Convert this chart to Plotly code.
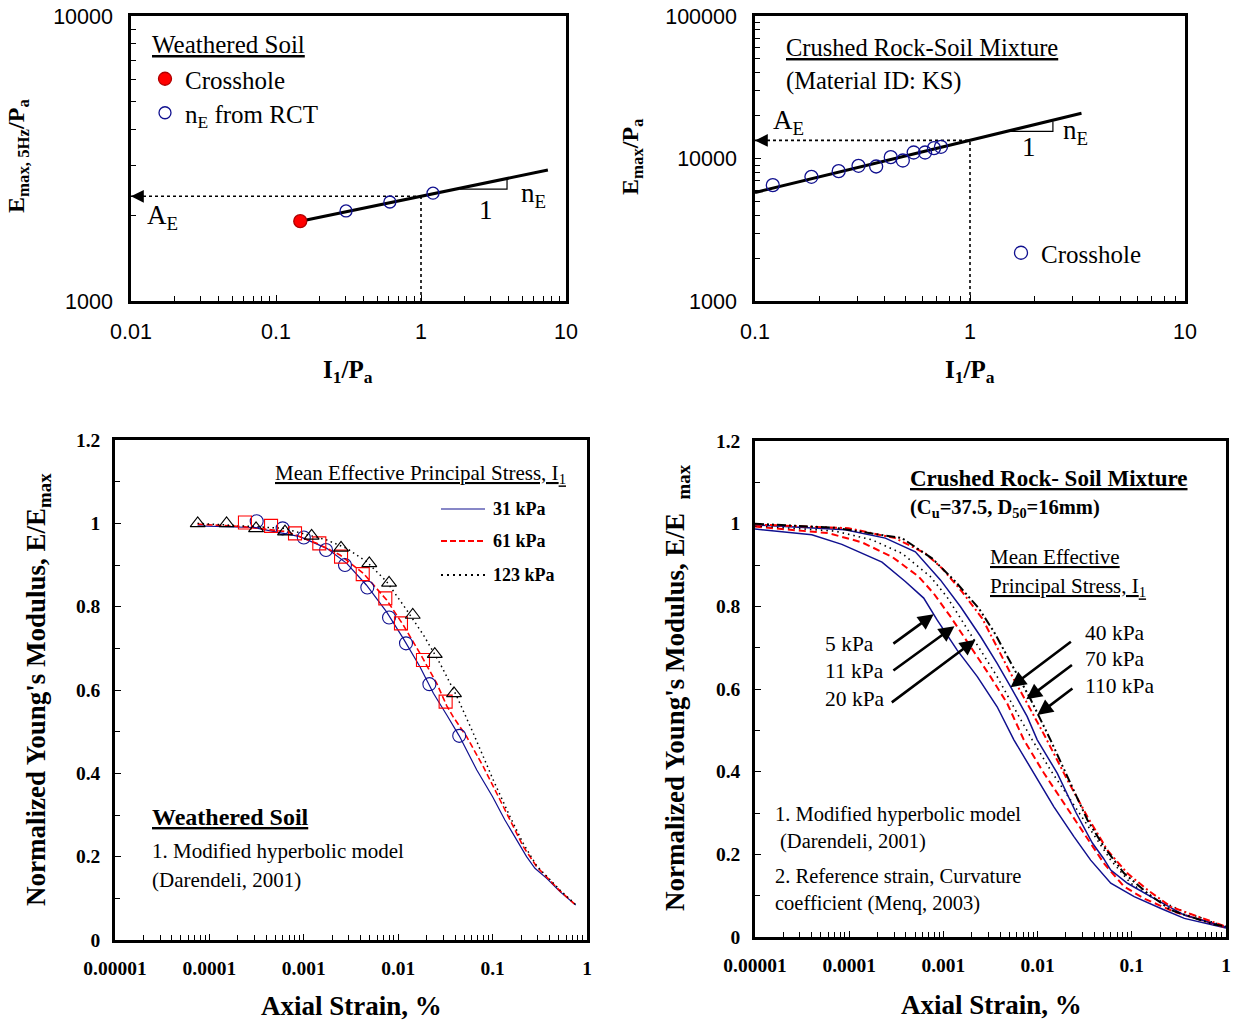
import math
import plotly.graph_objects as go

W, H = 1234, 1023
SERIF = "Liberation Serif"
SANS = "Liberation Sans"
NAVY = "#10108f"
RED = "#ff0000"

# ---------------- Weathered soil: Emax,5Hz/Pa vs I1/Pa ----------------
ws_cross_I1 = [0.147]
ws_cross_E = [1906]
ws_rct_I1 = [0.304, 0.61, 1.21]
ws_rct_E = [2070, 2225, 2390]
ws_fit_I1 = [0.147, 7.5]
ws_fit_E = [1906, 2880]
ws_AE = 2330
ws_tri_I1 = [1.86, 3.92]
ws_tri_E = [2470, 2680]

# ---------------- Crushed rock-soil mixture: Emax/Pa vs I1/Pa ----------------
ks_I1 = [0.121, 0.183, 0.245, 0.303, 0.366, 0.428, 0.487, 0.547, 0.618, 0.680, 0.733]
ks_E = [6500, 7440, 8150, 8890, 8790, 10220, 9680, 11020, 11020, 11820, 12080]
ks_fit_I1 = [0.1, 3.3]
ks_fit_E = [5770, 20800]
ks_AE = 13400
ks_tri_I1 = [1.53, 2.43]
ks_tri_E = [15500, 18200]

# ---------------- Weathered soil: E/Emax vs axial strain (%) ----------------
ws_31_strain = [3.17e-4, 5.97e-4, 1.0e-3, 1.72e-3, 2.73e-3, 4.71e-3, 8.0e-3, 0.0121, 0.0214, 0.0443]
ws_31_ratio = [1.005, 0.988, 0.966, 0.936, 0.900, 0.846, 0.774, 0.712, 0.614, 0.490]
ws_61_strain = [2.38e-4, 4.50e-4, 8.07e-4, 1.46e-3, 2.48e-3, 4.21e-3, 7.30e-3, 0.0107, 0.0183, 0.0318]
ws_61_ratio = [1.002, 0.994, 0.976, 0.952, 0.920, 0.878, 0.820, 0.760, 0.672, 0.572]
ws_123_strain = [7.52e-5, 1.52e-4, 3.12e-4, 6.32e-4, 1.21e-3, 2.48e-3, 4.94e-3, 8.0e-3, 0.01426, 0.0244, 0.039]
ws_123_ratio = [1.0, 1.0, 0.988, 0.980, 0.970, 0.941, 0.904, 0.857, 0.780, 0.686, 0.592]

ws_fit31_strain = [7.5e-5, 2.9e-4, 9.1e-4, 1.75e-3, 2.85e-3, 4.6e-3, 7.5e-3, 0.0113, 0.017, 0.0236,
                   0.0327, 0.0443, 0.068, 0.10, 0.135, 0.187, 0.229, 0.281, 0.374, 0.517, 0.76]
ws_fit31_ratio = [0.994, 0.990, 0.968, 0.940, 0.904, 0.852, 0.788, 0.724, 0.656, 0.592,
                  0.540, 0.490, 0.408, 0.344, 0.288, 0.232, 0.200, 0.172, 0.148, 0.116, 0.084]
ws_fit61_strain = [7.5e-5, 2.29e-4, 6.6e-4, 1.37e-3, 2.42e-3, 4.27e-3, 7.55e-3, 0.0113, 0.017, 0.0256,
                   0.0327, 0.0384, 0.0531, 0.0797, 0.12, 0.166, 0.2115, 0.293, 0.517, 0.74]
ws_fit61_ratio = [0.998, 0.992, 0.980, 0.952, 0.924, 0.880, 0.816, 0.756, 0.688, 0.616,
                  0.562, 0.535, 0.488, 0.416, 0.336, 0.272, 0.224, 0.176, 0.118, 0.086]
ws_fit123_strain = [7.5e-5, 6.07e-4, 1.75e-3, 2.85e-3, 4.63e-3, 7.55e-3, 0.0123, 0.0185, 0.0277,
                    0.0417, 0.0625, 0.1016, 0.153, 0.211, 0.293, 0.517, 0.75]
ws_fit123_ratio = [1.0, 0.988, 0.960, 0.940, 0.908, 0.860, 0.792, 0.732, 0.664,
                   0.585, 0.496, 0.384, 0.296, 0.232, 0.178, 0.120, 0.086]

# ---------------- Crushed rock-soil mixture: model curves ----------------
ks_5_strain = [1e-5, 4.01e-5, 8.36e-5, 2.23e-4, 3.94e-4, 6.18e-4, 8.57e-4, 1.40e-3, 2.29e-3, 3.72e-3,
               5.60e-3, 9.14e-3, 0.0149, 0.0243, 0.0366, 0.0598, 0.106, 0.204, 0.361, 1.0]
ks_5_ratio = [0.987, 0.973, 0.950, 0.907, 0.860, 0.820, 0.767, 0.694, 0.630, 0.557,
              0.477, 0.396, 0.315, 0.243, 0.186, 0.130, 0.0975, 0.069, 0.045, 0.022]
ks_11_strain = [1e-5, 6.03e-5, 1.36e-4, 2.84e-4, 5.46e-4, 7.89e-4, 1.19e-3, 1.94e-3, 3.16e-3, 4.76e-3,
                7.14e-3, 0.0117, 0.0191, 0.0311, 0.0507, 0.0828, 0.135, 0.282, 1.0]
ks_11_ratio = [0.993, 0.977, 0.955, 0.920, 0.872, 0.831, 0.775, 0.702, 0.630, 0.565,
               0.477, 0.396, 0.323, 0.251, 0.178, 0.122, 0.093, 0.061, 0.023]
ks_20_strain = [1e-5, 7.10e-5, 1.74e-4, 3.64e-4, 7.28e-4, 1.09e-3, 1.64e-3, 2.48e-3, 3.72e-3, 6.08e-3,
                8.77e-3, 0.0137, 0.0224, 0.0366, 0.0598, 0.0975, 0.159, 0.361, 1.0]
ks_20_ratio = [0.995, 0.982, 0.961, 0.928, 0.872, 0.823, 0.759, 0.694, 0.630, 0.541,
               0.477, 0.404, 0.331, 0.259, 0.186, 0.130, 0.0975, 0.061, 0.024]
ks_40_strain = [1e-5, 9.06e-5, 2.42e-4, 5.04e-4, 9.29e-4, 1.52e-3, 2.48e-3, 3.72e-3, 5.16e-3, 7.76e-3,
                9.91e-3, 0.0162, 0.0257, 0.0380, 0.0501, 0.0598, 0.0899, 0.159, 0.361, 1.0]
ks_40_ratio = [0.997, 0.985, 0.965, 0.932, 0.864, 0.799, 0.727, 0.662, 0.606, 0.533,
               0.477, 0.396, 0.300, 0.228, 0.190, 0.162, 0.130, 0.0975, 0.053, 0.024]
ks_70_strain = [1e-5, 9.84e-5, 3.08e-4, 6.44e-4, 9.68e-4, 1.58e-3, 2.58e-3, 3.43e-3, 5.16e-3, 7.76e-3,
                0.0117, 0.0207, 0.0338, 0.0551, 0.0899, 0.147, 0.260, 1.0]
ks_70_ratio = [0.998, 0.989, 0.965, 0.928, 0.892, 0.835, 0.771, 0.715, 0.638, 0.565,
               0.490, 0.380, 0.291, 0.210, 0.154, 0.114, 0.073, 0.025]
ks_110_strain = [1e-5, 7.10e-5, 3.64e-4, 7.59e-4, 1.34e-3, 2.38e-3, 3.43e-3, 5.60e-3, 8.43e-3, 0.0137,
                 0.0207, 0.0338, 0.0507, 0.0828, 0.147, 0.260, 0.752, 1.0]
ks_110_ratio = [1.0, 0.990, 0.965, 0.916, 0.860, 0.795, 0.739, 0.650, 0.575, 0.477,
                0.388, 0.283, 0.218, 0.154, 0.106, 0.065, 0.030, 0.026]

# arrow (tail strain, tail ratio, tip strain, tip ratio) for each stress label
ks_arrow_tail_strain = [2.84e-4, 2.84e-4, 2.73e-4, 0.0234, 0.0240, 0.0243]
ks_arrow_tail_ratio = [0.707, 0.642, 0.565, 0.717, 0.661, 0.604]
ks_arrow_tip_strain = [7.89e-4, 1.31e-3, 2.19e-3, 5.16e-3, 7.59e-3, 9.93e-3]
ks_arrow_tip_ratio = [0.781, 0.752, 0.719, 0.604, 0.575, 0.537]


def px(x):
    return x / W


def py(y):
    return 1 - y / H


fig = go.Figure()


def line(x, y, xa, ya, color="black", width=1.5, dash="solid"):
    fig.add_trace(go.Scatter(x=x, y=y, xaxis=xa, yaxis=ya, mode="lines",
                             line=dict(color=color, width=width, dash=dash),
                             showlegend=False, hoverinfo="skip"))


# ---- panel 1: weathered soil modulus ----
line(ws_fit_I1, ws_fit_E, "x", "y", width=3)
line([0.01, 1], [ws_AE, ws_AE], "x", "y", dash="dot", width=1.6)
line([1, 1], [1000, ws_AE], "x", "y", dash="dot", width=1.6)
line([ws_tri_I1[0], ws_tri_I1[1], ws_tri_I1[1]], [ws_tri_E[0], ws_tri_E[0], ws_tri_E[1]], "x", "y", width=1.2)
fig.add_trace(go.Scatter(x=ws_rct_I1, y=ws_rct_E, xaxis="x", yaxis="y", mode="markers",
                         name="n<sub>E</sub> from RCT", legend="legend2",
                         marker=dict(symbol="circle-open", size=12, color=NAVY, line=dict(width=1.3))))
fig.add_trace(go.Scatter(x=ws_cross_I1, y=ws_cross_E, xaxis="x", yaxis="y", mode="markers",
                         name="Crosshole", legend="legend",
                         marker=dict(symbol="circle", size=13, color=RED, line=dict(width=1.3, color="#b00000"))))

# ---- panel 2: crushed rock-soil mixture modulus ----
line(ks_fit_I1, ks_fit_E, "x2", "y2", width=3)
line([0.1, 1], [ks_AE, ks_AE], "x2", "y2", dash="dot", width=1.6)
line([1, 1], [1000, ks_AE], "x2", "y2", dash="dot", width=1.6)
line([ks_tri_I1[0], ks_tri_I1[1], ks_tri_I1[1]], [ks_tri_E[0], ks_tri_E[0], ks_tri_E[1]], "x2", "y2", width=1.2)
fig.add_trace(go.Scatter(x=ks_I1, y=ks_E, xaxis="x2", yaxis="y2", mode="markers",
                         name="Crosshole", legend="legend3",
                         marker=dict(symbol="circle-open", size=13, color=NAVY, line=dict(width=1.3))))

# ---- panel 3: weathered soil modulus reduction ----
line(ws_fit31_strain, ws_fit31_ratio, "x3", "y3", color=NAVY, width=1.2)
line(ws_fit61_strain, ws_fit61_ratio, "x3", "y3", color=RED, width=1.6, dash="6px,3px")
line(ws_fit123_strain, ws_fit123_ratio, "x3", "y3", color="black", width=1.5, dash="1.5px,3.5px")
for xs, ys, sym, col in [(ws_31_strain, ws_31_ratio, "circle-open", NAVY),
                         (ws_61_strain, ws_61_ratio, "square-open", RED),
                         (ws_123_strain, ws_123_ratio, "triangle-up-open", "black")]:
    fig.add_trace(go.Scatter(x=xs, y=ys, xaxis="x3", yaxis="y3", mode="markers", showlegend=False,
                             marker=dict(symbol=sym, size=13, color=col, line=dict(width=1.1))))

# ---- panel 4: crushed rock-soil mixture modulus reduction ----
line(ks_5_strain, ks_5_ratio, "x4", "y4", color=NAVY, width=1.5)
line(ks_11_strain, ks_11_ratio, "x4", "y4", color=RED, width=2, dash="7px,4px")
line(ks_20_strain, ks_20_ratio, "x4", "y4", color="black", width=1.6, dash="1.5px,4px")
line(ks_40_strain, ks_40_ratio, "x4", "y4", color=NAVY, width=1.5)
line(ks_70_strain, ks_70_ratio, "x4", "y4", color=RED, width=2, dash="7px,3px,2px,3px")
line(ks_110_strain, ks_110_ratio, "x4", "y4", color="black", width=2, dash="9px,3px,2px,3px,2px,3px")

annotations = []


def note(x, y, text, size=20, anchor="left", bold=False, family=SERIF, angle=0, yanchor="middle"):
    annotations.append(dict(x=px(x), y=py(y), xref="paper", yref="paper", text=text,
                            showarrow=False, xanchor=anchor, yanchor=yanchor, textangle=angle,
                            font=dict(family=family, size=size, color="black",
                                      weight="bold" if bold else "normal")))


# arrowheads at the left end of the A_E guide lines
annotations.append(dict(x=math.log10(0.01), y=math.log10(ws_AE), ax=math.log10(0.0125), ay=math.log10(ws_AE),
                        xref="x", yref="y", axref="x", ayref="y", text="", showarrow=True,
                        arrowhead=2, arrowsize=1.6, arrowwidth=1.6, arrowcolor="black"))
annotations.append(dict(x=math.log10(0.1), y=math.log10(ks_AE), ax=math.log10(0.112), ay=math.log10(ks_AE),
                        xref="x2", yref="y2", axref="x2", ayref="y2", text="", showarrow=True,
                        arrowhead=2, arrowsize=1.6, arrowwidth=1.6, arrowcolor="black"))

# stress-level arrows in panel 4
for ts, tr, hs, hr in zip(ks_arrow_tail_strain, ks_arrow_tail_ratio, ks_arrow_tip_strain, ks_arrow_tip_ratio):
    annotations.append(dict(x=math.log10(hs), y=hr, ax=math.log10(ts), ay=tr,
                            xref="x4", yref="y4", axref="x4", ayref="y4", text="", showarrow=True,
                            arrowhead=2, arrowsize=1.2, arrowwidth=2.6, arrowcolor="black"))

# panel 1 texts
note(150, 45, "<u>Weathered Soil</u>", 25)
note(145, 217, "A<sub>E</sub>", 27)
note(486, 210, "1", 27, anchor="center")
note(519, 195, "n<sub>E</sub>", 27)
note(18, 156, "E<sub>max, 5Hz</sub>/P<sub>a</sub>", 24, anchor="center", bold=True, angle=-90)
note(348, 371, "I<sub>1</sub>/P<sub>a</sub>", 25, anchor="center", bold=True)

# panel 2 texts
note(784, 48, "<u>Crushed Rock-Soil Mixture</u>", 24.5)
note(784, 81, "(Material ID: KS)", 24.5)
note(771, 122, "A<sub>E</sub>", 27)
note(1029, 147, "1", 27, anchor="center")
note(1061, 132, "n<sub>E</sub>", 27)
note(632, 157, "E<sub>max</sub>/P<sub>a</sub>", 24, anchor="center", bold=True, angle=-90)
note(970, 371, "I<sub>1</sub>/P<sub>a</sub>", 25, anchor="center", bold=True)

# panel 3 texts
note(273, 474, "<u>Mean Effective Principal Stress, I<sub>1</sub></u>", 21)
note(150, 817, "<u>Weathered Soil</u>", 24, bold=True)
note(150, 851, "1. Modified hyperbolic model", 21)
note(150, 880, "(Darendeli, 2001)", 21)
for yy, lbl in [(509, "31 kPa"), (541, "61 kPa"), (575, "123 kPa")]:
    note(491, yy, lbl, 18, bold=True)
note(38, 690, "Normalized Young's Modulus, E/E<sub>max</sub>", 27, anchor="center", bold=True, angle=-90)
note(351, 1006, "Axial Strain, %", 27, anchor="center", bold=True)

# panel 4 texts
note(908, 478, "<u>Crushed Rock- Soil Mixture</u>", 23, bold=True)
note(908, 508, "(C<sub>u</sub>=37.5, D<sub>50</sub>=16mm)", 20.5, bold=True)
note(988, 557, "<u>Mean Effective</u>", 21)
note(988, 587, "<u>Principal Stress, I<sub>1</sub></u>", 21)
for yy, lbl in [(644, "5 kPa"), (671, "11 kPa"), (699, "20 kPa")]:
    note(823, yy, lbl, 21.5)
for yy, lbl in [(633, "40 kPa"), (659, "70 kPa"), (686, "110 kPa")]:
    note(1083, yy, lbl, 21.5)
note(773, 814, "1. Modified hyperbolic model", 20.5)
note(778, 841, "(Darendeli, 2001)", 20.5)
note(773, 876, "2. Reference strain, Curvature", 20.5)
note(773, 903, "coefficient (Menq, 2003)", 20.5)
note(677, 688, "Normalized Young's Modulus, E/E  <sub>max</sub>", 27, anchor="center", bold=True, angle=-90)
note(991, 1005, "Axial Strain, %", 27, anchor="center", bold=True)

# legend keys for panel 3 line styles
shapes = []
for yy, col, dash, wd in [(509, NAVY, "solid", 1.2), (541, RED, "6px,3px", 2), (575, "black", "2px,4px", 2)]:
    shapes.append(dict(type="line", xref="paper", yref="paper", x0=px(441), x1=px(485), y0=py(yy), y1=py(yy),
                       line=dict(color=col, width=wd, dash=dash)))


def log_minor(e0, e1):
    return [m * 10 ** e for e in range(e0, e1) for m in range(2, 10)]


def logaxis(domain, rng, vals, texts, minor, font, anchor, standoff):
    return dict(type="log", domain=domain, range=rng, tickmode="array", tickvals=vals, ticktext=texts,
                ticks="inside", ticklen=6, tickwidth=1.2, tickcolor="black", automargin=False,
                minor=dict(tickmode="array", tickvals=minor, ticks="inside", ticklen=5, tickwidth=1, tickcolor="black"),
                showline=True, linewidth=2.5, linecolor="black", mirror=True, showgrid=False, zeroline=False,
                tickfont=font, anchor=anchor, ticklabelstandoff=standoff)


sans_font = dict(family=SANS, size=21.5, color="black")
serif_bold = dict(family=SERIF, size=19.5, color="black", weight="bold")

lin_y = dict(range=[0, 1.2], dtick=0.2, ticks="inside", ticklen=6, tickwidth=1.2, tickcolor="black",
             minor=dict(dtick=0.1, ticks="inside", ticklen=5, tickwidth=1, tickcolor="black"),
             showline=True, linewidth=2.5, linecolor="black", mirror=True, showgrid=False, zeroline=False,
             tickfont=serif_bold, ticklabelstandoff=8, automargin=False)

fig.update_layout(
    width=W, height=H, margin=dict(l=0, r=0, t=0, b=0, autoexpand=False),
    paper_bgcolor="white", plot_bgcolor="white",
    xaxis=logaxis([px(131), px(566)], [-2, 1], [0.01, 0.1, 1, 10], ["0.01", "0.1", "1", "10"],
                  log_minor(-2, 1), sans_font, "y", 9),
    yaxis=logaxis([py(301), py(16)], [3, 4], [1000, 10000], ["1000", "10000"],
                  log_minor(3, 4), sans_font, "x", 11),
    xaxis2=logaxis([px(755), px(1185)], [-1, 1], [0.1, 1, 10], ["0.1", "1", "10"],
                   log_minor(-1, 1), sans_font, "y2", 9),
    yaxis2=logaxis([py(301), py(16)], [3, 5], [1000, 10000, 100000], ["1000", "10000", "100000"],
                   log_minor(3, 5), sans_font, "x2", 11),
    xaxis3=logaxis([px(115), px(587)], [-5, 0], [1e-5, 1e-4, 1e-3, 1e-2, 0.1, 1],
                   ["0.00001", "0.0001", "0.001", "0.01", "0.1", "1"], log_minor(-5, 0), serif_bold, "y3", 9),
    yaxis3=dict(lin_y, domain=[py(940), py(440)], anchor="x3"),
    xaxis4=logaxis([px(755), px(1226)], [-5, 0], [1e-5, 1e-4, 1e-3, 1e-2, 0.1, 1],
                   ["0.00001", "0.0001", "0.001", "0.01", "0.1", "1"], log_minor(-5, 0), serif_bold, "y4", 9),
    yaxis4=dict(lin_y, domain=[py(937), py(441)], anchor="x4"),
    annotations=annotations,
    shapes=shapes,
    legend=dict(x=px(145), y=py(79), xanchor="left", yanchor="middle", bgcolor="rgba(0,0,0,0)",
                font=dict(family=SERIF, size=25, color="black")),
    legend2=dict(x=px(145), y=py(113), xanchor="left", yanchor="middle", bgcolor="rgba(0,0,0,0)",
                 font=dict(family=SERIF, size=25, color="black")),
    legend3=dict(x=px(1001), y=py(253), xanchor="left", yanchor="middle", bgcolor="rgba(0,0,0,0)",
                 font=dict(family=SERIF, size=25, color="black")),
)

fig.write_html("out.html")
